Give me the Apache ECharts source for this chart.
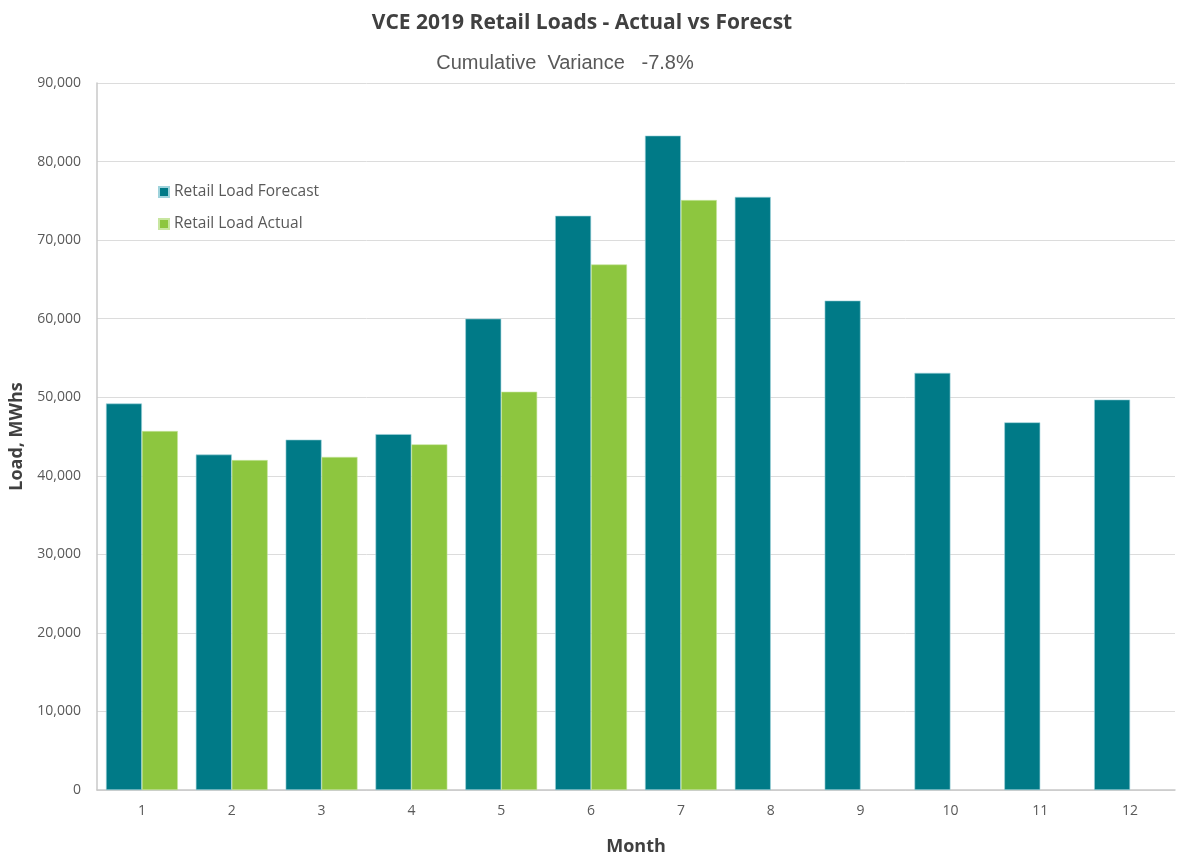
<!DOCTYPE html>
<html>
<head>
<meta charset="utf-8">
<script src="https://cdn.jsdelivr.net/npm/echarts@6/dist/echarts.min.js"></script>
<style>html,body{margin:0;padding:0;background:#fff;}#c{width:1177px;height:861px;}</style>
</head>
<body>
<div id="c"></div>
<script>
const months = ['1','2','3','4','5','6','7','8','9','10','11','12'];
const forecast = [49200, 42700, 44600, 45300, 60000, 73100, 83300, 75500, 62300, 53100, 46800, 49700];
const actual = [45700, 42000, 42400, 44000, 50700, 66900, 75100, null, null, null, null, null];
const yTicks = { min: 0, max: 90000, interval: 10000 };

const chart = echarts.init(document.getElementById('c'));
chart.setOption({
  animation: false,
  backgroundColor: '#fff',
  title: [
    { text: 'VCE 2019 Retail Loads - Actual vs Forecst', left: 577, top: 8, textAlign: 'center',
      textStyle: { fontFamily: 'Open Sans', fontWeight: 'bold', fontSize: 21, color: '#404040' } },
    { text: 'Cumulative  Variance   -7.8%', left: 560, top: 48, textAlign: 'center',
      textStyle: { fontFamily: 'Liberation Sans', fontWeight: 'normal', fontSize: 20, color: '#595959' } }
  ],
  legend: {
    orient: 'vertical', left: 153, top: 179, itemWidth: 10, itemHeight: 10, itemGap: 16,
    icon: 'rect',
    textStyle: { fontFamily: 'Open Sans', fontSize: 15.5, color: '#595959' },
    data: ['Retail Load Forecast', 'Retail Load Actual']
  },
  grid: { left: 97, right: 2, top: 83, bottom: 61, containLabel: false },
  xAxis: {
    type: 'category', data: months,
    name: 'Month', nameLocation: 'middle', nameGap: 48,
    nameTextStyle: { fontFamily: 'Open Sans', fontWeight: 'bold', fontSize: 18, color: '#404040' },
    axisLine: { lineStyle: { color: '#c8c8c8', width: 1.5 } },
    axisTick: { show: false },
    axisLabel: { fontFamily: 'Open Sans', fontSize: 14, color: '#595959', margin: 14 }
  },
  yAxis: {
    type: 'value', min: yTicks.min, max: yTicks.max, interval: yTicks.interval,
    name: 'Load, MWhs', nameLocation: 'middle', nameGap: 71, nameRotate: 90,
    nameTextStyle: { fontFamily: 'Open Sans', fontWeight: 'bold', fontSize: 18, color: '#404040' },
    axisLine: { show: true, lineStyle: { color: '#c8c8c8', width: 1.5 } },
    axisTick: { show: false },
    splitLine: { lineStyle: { color: '#dcdcdc' } },
    axisLabel: { fontFamily: 'Open Sans', fontSize: 14, color: '#595959', margin: 16,
      formatter: v => v.toLocaleString('en-US') }
  },
  series: [
    { name: 'Retail Load Forecast', type: 'bar', data: forecast, barGap: '0%', barCategoryGap: '20%',
      itemStyle: { color: '#007A87', borderColor: '#9fd3dc', borderWidth: 0.6 } },
    { name: 'Retail Load Actual', type: 'bar', data: actual, barGap: '0%', barCategoryGap: '20%',
      itemStyle: { color: '#8DC63F', borderColor: '#c8e6a0', borderWidth: 0.6 } }
  ]
});
</script>
</body>
</html>
